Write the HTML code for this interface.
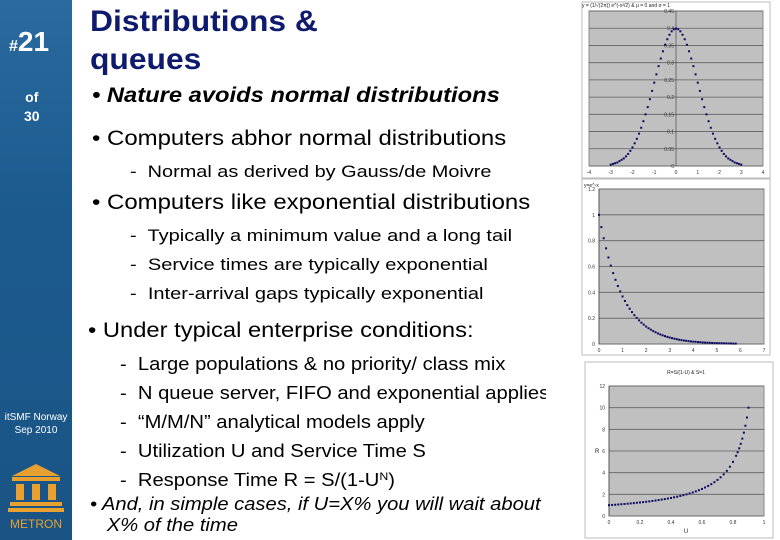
<!DOCTYPE html>
<html><head><meta charset="utf-8">
<style>
body{margin:0;width:780px;height:540px;overflow:hidden;background:#fff;font-family:"Liberation Sans",sans-serif;position:relative}
#side{position:absolute;left:0;top:0;width:72px;height:540px;background:linear-gradient(180deg,#2a6a9e 0%,#1c5a8e 40%,#1a5485 100%)}
.t{position:absolute;white-space:nowrap;transform-origin:0 0}
#text{position:absolute;left:0;top:0;width:546px;height:540px;overflow:hidden}
svg text{font-family:"Liberation Sans",sans-serif}
sup{line-height:0;vertical-align:6px}
</style></head><body>
<div id="side">
 <div class="t" style="left:9px;top:26px;color:#fff;font-weight:bold;font-size:28px"><span style="font-size:16px">#</span>21</div>
 <div class="t" style="left:24px;top:88px;color:#fff;font-weight:bold;font-size:14px;text-align:center;line-height:19px">of<br>30</div>
 <div class="t" style="left:0;width:72px;top:411px;color:#fff;font-size:10px;text-align:center;line-height:13px">itSMF Norway<br>Sep 2010</div>
 <svg style="position:absolute;left:8px;top:462px" width="56" height="70">
  <polygon points="4,14 28,2 52,14" fill="#e8a030"/>
  <rect x="4" y="15" width="48" height="4" fill="#e8a030"/>
  <rect x="8" y="22" width="8" height="16" fill="#e8a030"/><rect x="24" y="22" width="8" height="16" fill="#e8a030"/><rect x="40" y="22" width="8" height="16" fill="#e8a030"/>
  <rect x="2" y="40" width="52" height="4" fill="#e8a030"/><rect x="0" y="46" width="56" height="4" fill="#e8a030"/>
  <text x="28" y="66" text-anchor="middle" font-size="12" fill="#e8a030">METRON</text>
 </svg>
</div>
<div id="text">
 <div class="t" style="left:90px;top:3px;font-size:30px;font-weight:bold;color:#0d1a6e;line-height:38px;transform:scaleX(1.06)">Distributions &amp;<br>queues</div>
 <div class="t" style="left:92px;top:84px;font-size:21px;font-weight:bold;font-style:italic;transform:scaleX(1.13)">• Nature avoids normal distributions</div>
 <div class="t" style="left:92px;top:127px;font-size:21px;transform:scaleX(1.14)">• Computers abhor normal distributions</div>
 <div class="t" style="left:130px;top:162px;font-size:17px;transform:scaleX(1.17)">-&nbsp; Normal as derived by Gauss/de Moivre</div>
 <div class="t" style="left:92px;top:191px;font-size:21px;transform:scaleX(1.14)">• Computers like exponential distributions</div>
 <div class="t" style="left:130px;top:221px;font-size:17px;line-height:29px;transform:scaleX(1.18)">-&nbsp; Typically a minimum value and a long tail<br>-&nbsp; Service times are typically exponential<br>-&nbsp; Inter-arrival gaps typically exponential</div>
 <div class="t" style="left:88px;top:319px;font-size:21px;transform:scaleX(1.13)">• Under typical enterprise conditions:</div>
 <div class="t" style="left:120px;top:350px;font-size:18px;line-height:29px;transform:scaleX(1.12)">-&nbsp; Large populations &amp; no priority/ class mix<br>-&nbsp; N queue server, FIFO and exponential applies<br>-&nbsp; “M/M/N” analytical models apply<br>-&nbsp; Utilization U and Service Time S<br>-&nbsp; Response Time R = S/(1-U<sup style="font-size:11px">N</sup>)</div>
 <div class="t" style="left:90px;top:494px;font-size:18px;font-style:italic;line-height:21px;transform:scaleX(1.12)">• And, in simple cases, if U=X% you will wait about<br>&nbsp;&nbsp;&nbsp;X% of the time</div>
</div>
<svg id="charts" style="position:absolute;left:0;top:0" width="780" height="540"></svg>
<script>
const nX=[-3,-2.9,-2.8,-2.7,-2.6,-2.5,-2.4,-2.3,-2.2,-2.1,-2,-1.9,-1.8,-1.7,-1.6,-1.5,-1.4,-1.3,-1.2,-1.1,-1,-0.9,-0.8,-0.7,-0.6,-0.5,-0.4,-0.3,-0.2,-0.1,0,0.1,0.2,0.3,0.4,0.5,0.6,0.7,0.8,0.9,1,1.1,1.2,1.3,1.4,1.5,1.6,1.7,1.8,1.9,2,2.1,2.2,2.3,2.4,2.5,2.6,2.7,2.8,2.9,3];
const nY=[0.004,0.006,0.008,0.010,0.014,0.018,0.022,0.028,0.035,0.044,0.054,0.066,0.079,0.094,0.111,0.130,0.150,0.171,0.194,0.218,0.242,0.266,0.290,0.312,0.333,0.352,0.368,0.381,0.391,0.397,0.399,0.397,0.391,0.381,0.368,0.352,0.333,0.312,0.290,0.266,0.242,0.218,0.194,0.171,0.150,0.130,0.111,0.094,0.079,0.066,0.054,0.044,0.035,0.028,0.022,0.018,0.014,0.010,0.008,0.006,0.004];
const nXTicks=[-4,-3,-2,-1,0,1,2,3,4];
const nYTicks=[0,0.05,0.1,0.15,0.2,0.25,0.3,0.35,0.4,0.45];
const eX=[0,0.1,0.2,0.3,0.4,0.5,0.6,0.7,0.8,0.9,1,1.1,1.2,1.3,1.4,1.5,1.6,1.7,1.8,1.9,2,2.1,2.2,2.3,2.4,2.5,2.6,2.7,2.8,2.9,3,3.1,3.2,3.3,3.4,3.5,3.6,3.7,3.8,3.9,4,4.1,4.2,4.3,4.4,4.5,4.6,4.7,4.8,4.9,5,5.1,5.2,5.3,5.4,5.5,5.6,5.7,5.8];
const eY=[1,0.905,0.819,0.741,0.670,0.607,0.549,0.497,0.449,0.407,0.368,0.333,0.301,0.273,0.247,0.223,0.202,0.183,0.165,0.150,0.135,0.122,0.111,0.100,0.091,0.082,0.074,0.067,0.061,0.055,0.050,0.045,0.041,0.037,0.033,0.030,0.027,0.025,0.022,0.020,0.018,0.017,0.015,0.014,0.012,0.011,0.010,0.009,0.008,0.007,0.007,0.006,0.006,0.005,0.005,0.004,0.004,0.003,0.003];
const eXTicks=[0,1,2,3,4,5,6,7];
const eYTicks=[0,0.2,0.4,0.6,0.8,1,1.2];
const rX=[0,0.02,0.04,0.06,0.08,0.1,0.12,0.14,0.16,0.18,0.2,0.22,0.24,0.26,0.28,0.3,0.32,0.34,0.36,0.38,0.4,0.42,0.44,0.46,0.48,0.5,0.52,0.54,0.56,0.58,0.6,0.62,0.64,0.66,0.68,0.7,0.72,0.74,0.76,0.78,0.8,0.82,0.83,0.84,0.85,0.86,0.87,0.88,0.89,0.9];
const rY=[1,1.02,1.042,1.064,1.087,1.111,1.136,1.163,1.19,1.22,1.25,1.282,1.316,1.351,1.389,1.429,1.471,1.515,1.563,1.613,1.667,1.724,1.786,1.852,1.923,2,2.083,2.174,2.273,2.381,2.5,2.632,2.778,2.941,3.125,3.333,3.571,3.846,4.167,4.545,5,5.556,5.882,6.25,6.667,7.143,7.692,8.333,9.091,10];
const rXTicks=[0,0.2,0.4,0.6,0.8,1];
const rYTicks=[0,2,4,6,8,10,12];

const NS='http://www.w3.org/2000/svg';
const svg=document.getElementById('charts');
function el(t,a,p){const e=document.createElementNS(NS,t);for(const k in a)e.setAttribute(k,a[k]);(p||svg).appendChild(e);return e;}
function chart(name,box,plot,xd,yd,xs,ys,xt,yt,title){
 const g=el('g',{});
 
 
 el('rect',{x:box[0],y:box[1],width:box[2],height:box[3],fill:'#fff',stroke:'#bbb'},g);
 const [px,py,pw,ph]=plot;
 const sx=v=>px+(v-xd[0])/(xd[1]-xd[0])*pw;
 const sy=v=>py+ph-(v-yd[0])/(yd[1]-yd[0])*ph;
 el('rect',{x:px,y:py,width:pw,height:ph,fill:'#c0c0c0',stroke:'#888'},g);
 yt.forEach(v=>{el('line',{x1:px,x2:px+pw,y1:sy(v),y2:sy(v),stroke:'#606060','stroke-width':0.8},g);
  const tx=el('text',{x:(xd[0]<0?sx(0)-2:px-4),y:sy(v)+2,'font-size':5,'text-anchor':'end',fill:'#333'},g);tx.textContent=v;});
 const ax=xd[0]<0?sx(0):px;
 el('line',{x1:ax,x2:ax,y1:py,y2:py+ph,stroke:'#333','stroke-width':0.6},g);
 xt.forEach(v=>{const tx=el('text',{x:sx(v),y:py+ph+8,'font-size':5,'text-anchor':'middle',fill:'#333'},g);tx.textContent=v;});
 xs.forEach((v,i)=>{const c=el('rect',{x:sx(v)-1,y:sy(ys[i])-1,width:2,height:2,fill:'#0a0a60'},g);
  
  });
 if(title){const t=el('text',{x:title[0],y:title[1],'font-size':5,fill:'#222','text-anchor':title[3]||'start'},g);t.textContent=title[2];}
 return g;
}
chart('normal-chart',[582,2,188,176],[589,11,174,155],[-4,4],[0,0.45],nX,nY,nXTicks,nYTicks,[582,7,'y = (1/√(2π)) e^(-x²/2) & μ = 0 and σ = 1']);
chart('exponential-chart',[582,179,188,176],[599,189,165,155],[0,7],[0,1.2],eX,eY,eXTicks,eYTicks,[584,187,'y=e^-x']);
const g3=chart('response-time-chart',[585,362,188,176],[609,386,155,130],[0,1],[0,12],rX,rY,rXTicks,rYTicks,[686,374,'R=S/(1-U) & S=1','middle']);
const yl=el('text',{x:595,y:453,'font-size':6,fill:'#222'},g3);yl.textContent='R';
const xl=el('text',{x:686,y:533,'font-size':6,fill:'#222','text-anchor':'middle'},g3);xl.textContent='U';
</script>
</body></html>
